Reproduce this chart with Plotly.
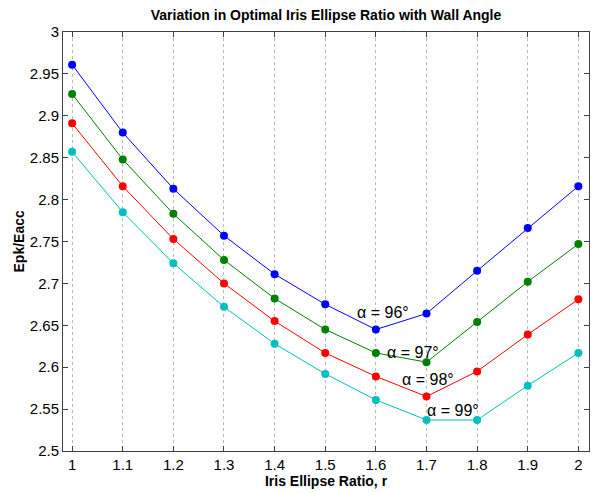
import plotly.graph_objects as go

r = [1.0, 1.1, 1.2, 1.3, 1.4, 1.5, 1.6, 1.7, 1.8, 1.9, 2.0]
epk_96 = [2.961, 2.880, 2.813, 2.757, 2.711, 2.675, 2.645, 2.664, 2.715, 2.766, 2.816]
epk_97 = [2.926, 2.848, 2.783, 2.728, 2.682, 2.645, 2.617, 2.606, 2.654, 2.702, 2.747]
epk_98 = [2.891, 2.816, 2.753, 2.700, 2.655, 2.617, 2.589, 2.565, 2.595, 2.639, 2.681]
epk_99 = [2.857, 2.785, 2.724, 2.672, 2.628, 2.592, 2.561, 2.537, 2.537, 2.578, 2.617]

series = [
    ("α = 96°", epk_96, "#0000FF"),
    ("α = 97°", epk_97, "#008000"),
    ("α = 98°", epk_98, "#FF0000"),
    ("α = 99°", epk_99, "#00BFBF"),
]
label_x = [1.615, 1.673, 1.703, 1.752]
label_y = [2.665, 2.617, 2.585, 2.548]

x_ticks = [1.0, 1.1, 1.2, 1.3, 1.4, 1.5, 1.6, 1.7, 1.8, 1.9, 2.0]
x_tick_text = ["1", "1.1", "1.2", "1.3", "1.4", "1.5", "1.6", "1.7", "1.8", "1.9", "2"]
y_ticks = [2.5, 2.55, 2.6, 2.65, 2.7, 2.75, 2.8, 2.85, 2.9, 2.95, 3.0]
y_tick_text = ["2.5", "2.55", "2.6", "2.65", "2.7", "2.75", "2.8", "2.85", "2.9", "2.95", "3"]

FONT = "Liberation Sans, Arial, sans-serif"

fig = go.Figure()
for name, ys, col in series:
    fig.add_trace(go.Scatter(
        x=r, y=ys, mode="lines+markers", name=name,
        line=dict(color=col, width=1),
        marker=dict(color=col, size=8, symbol="circle"),
        showlegend=False,
    ))

for (name, ys, col), lx, ly in zip(series, label_x, label_y):
    fig.add_annotation(x=lx, y=ly, text=name, showarrow=False,
                       font=dict(family=FONT, size=16, color="black"))

# y-axis title placed beside the tick labels
fig.add_annotation(xref="paper", yref="paper", x=0, y=0.5, xshift=-45,
                   xanchor="center", yanchor="middle",
                   text="<b>Epk/Eacc</b>", textangle=-90, showarrow=False,
                   font=dict(family=FONT, size=14, color="black"))

axis_common = dict(
    showline=True, linecolor="#404040", linewidth=1, mirror="ticks",
    ticks="inside", ticklen=5, tickcolor="#404040", zeroline=False,
    automargin=False,
    tickfont=dict(family=FONT, size=15, color="black"),
)

fig.update_xaxes(
    range=[0.982, 2.021], tickvals=x_ticks, ticktext=x_tick_text,
    showgrid=True, gridcolor="#BBBBBB", griddash="dot", gridwidth=1,
    title=dict(text="<b>Iris Ellipse Ratio, r</b>", standoff=3,
               font=dict(family=FONT, size=14, color="black")),
    **axis_common,
)
fig.update_yaxes(
    range=[2.5, 3.0], tickvals=y_ticks, ticktext=y_tick_text,
    showgrid=False,
    **axis_common,
)

fig.update_layout(
    width=590, height=485,
    margin=dict(l=55, r=9, t=24, b=42, autoexpand=False),
    paper_bgcolor="white", plot_bgcolor="white",
    title=dict(text="<b>Variation in Optimal Iris Ellipse Ratio with Wall Angle</b>",
               x=0.539, xanchor="center", yref="container", y=0.985, yanchor="middle",
               font=dict(family=FONT, size=14, color="black")),
)

fig.write_html("out.html")
